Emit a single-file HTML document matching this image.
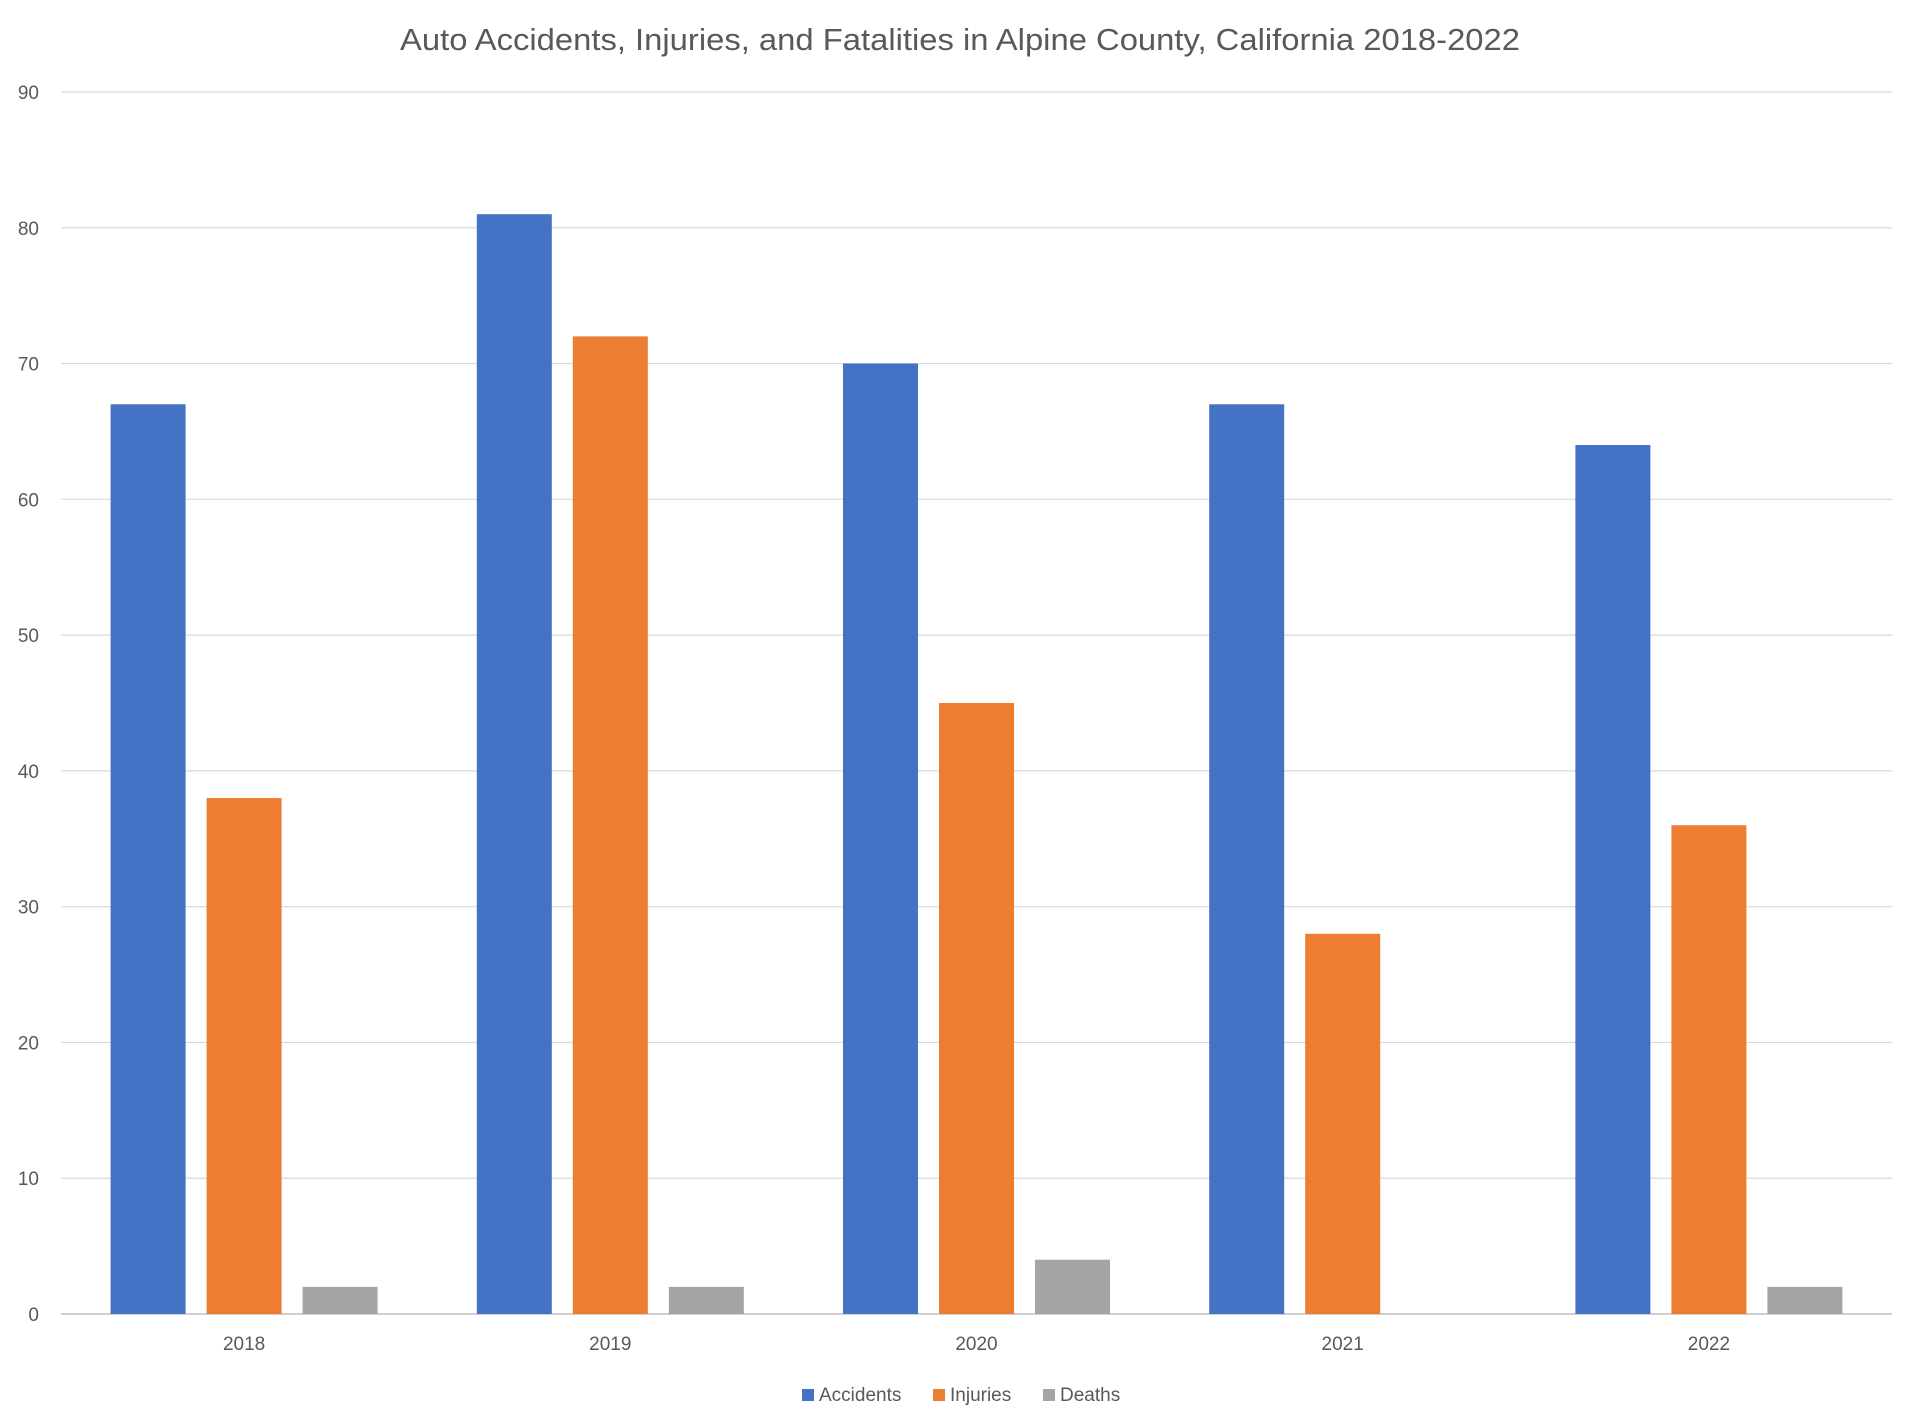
<!DOCTYPE html>
<html><head><meta charset="utf-8"><style>
html,body{margin:0;padding:0;background:#fff;}
svg{display:block;font-family:"Liberation Sans",sans-serif;}
</style></head><body>
<svg id="chart" width="1920" height="1428" viewBox="0 0 1920 1428">
<text x="960" y="50" text-anchor="middle" font-size="31" fill="#595959" textLength="1120" lengthAdjust="spacingAndGlyphs">Auto Accidents, Injuries, and Fatalities in Alpine County, California 2018-2022</text>
<g id="grid"></g>
<g id="bars"></g>
<g id="labels"></g>
<g font-size="19" fill="#595959">
<g><rect x="802" y="1389" width="12" height="12" fill="#4472C4"/><text x="819" y="1401">Accidents</text></g>
<g><rect x="933" y="1389" width="12" height="12" fill="#ED7D31"/><text x="950" y="1401">Injuries</text></g>
<g><rect x="1043" y="1389" width="12" height="12" fill="#A5A5A5"/><text x="1060" y="1401">Deaths</text></g>
</g>
</svg>
<script>
const categories = ["2018","2019","2020","2021","2022"];
const accidents = [67,81,70,67,64];
const injuries = [38,72,45,28,36];
const deaths = [2,2,4,0,2];
const yTicks = [0,10,20,30,40,50,60,70,80,90];
const seriesNames = ["accidents","injuries","deaths"];
const seriesColors = ["#4472C4","#ED7D31","#A5A5A5"];

const SVGNS = "http://www.w3.org/2000/svg";
const plotLeft = 61, plotRight = 1892, plotTop = 92, plotBottom = 1314, yMax = 90;
const band = (plotRight - plotLeft) / categories.length;
const barW = 75, barGap = 21;
function yScale(v){ return plotBottom - (v / yMax) * (plotBottom - plotTop); }
function xBar(i, s){ const g = 3*barW + 2*barGap; return plotLeft + i*band + (band - g)/2 + s*(barW+barGap); }
function mk(tag, attrs, parent){ const e = document.createElementNS(SVGNS, tag); for (const k in attrs) e.setAttribute(k, attrs[k]); parent.appendChild(e); return e; }

const gridG = document.getElementById("grid");
const labelsG = document.getElementById("labels");
yTicks.forEach(t => {
  const l = mk("line", {x1:plotLeft, x2:plotRight, y1:yScale(t), y2:yScale(t), stroke: t===0 ? "#bfbfbf" : "#d9d9d9", "stroke-width": t===0 ? 1.5 : 1.2}, gridG);
  
  
  const tx = mk("text", {x:39, y:yScale(t)+7, "text-anchor":"end", "font-size":19, fill:"#595959"}, labelsG);
  tx.textContent = t;
  
  
});
categories.forEach((c, i) => {
  const tx = mk("text", {x:plotLeft + band*i + band/2, y:1350, "text-anchor":"middle", "font-size":19, fill:"#595959"}, labelsG);
  tx.textContent = c;
  
  
});
const barsG = document.getElementById("bars");
[accidents, injuries, deaths].forEach((series, s) => {
  series.forEach((v, i) => {
    if (v <= 0) return;
    const r = mk("rect", {x:xBar(i,s), y:yScale(v), width:barW, height:plotBottom - yScale(v), fill:seriesColors[s]}, barsG);
    
    
  });
});
</script>
</body></html>
